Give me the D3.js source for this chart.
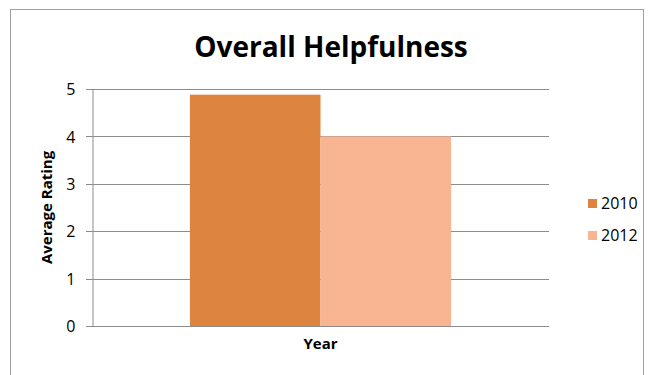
<!DOCTYPE html>
<html>
<head>
<meta charset="utf-8">
<script src="https://cdn.jsdelivr.net/npm/d3@7"></script>
<style>
  body { margin: 0; background: #fff; }
  text { font-family: "Open Sans", "Liberation Sans", sans-serif; fill: #000; }
  .title { font-size: 28px; font-weight: bold; }
  .label { font-size: 15px; font-weight: bold; }
  .tick text { font-size: 16px; }
  .legend text { font-size: 16px; }
</style>
</head>
<body>
<div class="chart"></div>
<script>
const categories = ["Year"];
const seriesNames = ["2010", "2012"];
const seriesValues = [[4.88], [4.0]];
const yTicks = [0, 1, 2, 3, 4, 5];
const colors = ["#DD843F", "#F9B591"];

const width = 657, height = 375;
const margin = { top: 89, right: 108, bottom: 49, left: 92 };

const svg = d3.select(".chart")
  .append("svg")
  .attr("width", width)
  .attr("height", height);

//Chart border
svg.append("rect")
  .attr("x", 10.5)
  .attr("y", 9.5)
  .attr("width", 633)
  .attr("height", 380)
  .attr("fill", "none")
  .attr("stroke", "#a0a0a0");

//Title
svg.append("text")
  .attr("class", "title")
  .attr("x", 331)
  .attr("y", 57)
  .attr("text-anchor", "middle")
  .text("Overall Helpfulness");

const xScale = d3.scaleBand()
  .domain(categories)
  .range([margin.left, width - margin.right])
  .paddingInner(0)
  .paddingOuter(0.375);

const yScale = d3.scaleLinear()
  .domain([0, 5])
  .range([height - margin.bottom, margin.top]);

//Gridlines
svg.append("g")
  .selectAll("line")
  .data(yTicks)
  .join("line")
  .attr("x1", margin.left - 6)
  .attr("x2", width - margin.right)
  .attr("y1", d => Math.round(yScale(d)) + 0.5)
  .attr("y2", d => Math.round(yScale(d)) + 0.5)
  .attr("stroke", "#8c8c8c")
  .attr("stroke-width", 1);

//Y axis
const yAxisGroup = svg.append("g")
  .attr("transform", `translate(${margin.left + 0.5}, 0)`)
  .call(d3.axisLeft(yScale).tickValues(yTicks).tickSize(0).tickPadding(17).tickFormat(d3.format("d")));
yAxisGroup.select(".domain").attr("stroke", "#8c8c8c");
yAxisGroup.selectAll(".tick text").attr("dy", "0.35em");

//Bars
const seriesScale = d3.scaleBand()
  .domain(seriesNames)
  .range([0, xScale.bandwidth()]);

categories.forEach((cat, ci) => {
  seriesNames.forEach((s, si) => {
    const v = seriesValues[si][ci];
    svg.append("rect")
      .attr("x", xScale(cat) + seriesScale(s))
      .attr("y", yScale(v))
      .attr("width", seriesScale.bandwidth())
      .attr("height", yScale(0) - yScale(v))
      .attr("fill", colors[si]);
  });
});

//Redraw baseline over bars
svg.append("line")
  .attr("x1", margin.left - 6)
  .attr("x2", width - margin.right)
  .attr("y1", Math.round(yScale(0)) + 0.5)
  .attr("y2", Math.round(yScale(0)) + 0.5)
  .attr("stroke", "#8c8c8c");

//X label
svg.append("text")
  .attr("class", "label")
  .attr("x", xScale(categories[0]) + xScale.bandwidth() / 2)
  .attr("y", 349)
  .attr("text-anchor", "middle")
  .text("Year");

//Y label
svg.append("g")
  .attr("transform", `translate(52, ${(yScale(0) + yScale(5)) / 2})`)
  .append("text")
  .attr("class", "label")
  .attr("text-anchor", "middle")
  .attr("transform", "rotate(-90)")
  .text("Average Rating");

//Legend
const legend = svg.append("g")
  .attr("class", "legend")
  .selectAll("g")
  .data(seriesNames)
  .join("g")
  .attr("transform", (d, i) => `translate(588, ${199 + 32 * i})`);

legend.append("rect")
  .attr("width", 9)
  .attr("height", 9)
  .attr("fill", (d, i) => colors[i]);

legend.append("text")
  .attr("x", 13)
  .attr("y", 10)
  .text(d => d);
</script>
</body>
</html>
